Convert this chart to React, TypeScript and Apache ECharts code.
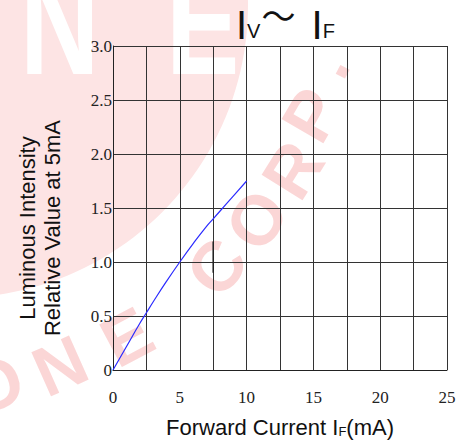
import React, { useEffect, useRef } from 'react';
import * as echarts from 'echarts';

// Forward current (mA) and relative luminous intensity (relative to 5 mA)
const currentMA = [0, 1, 2, 2.5, 3, 4, 5, 6, 7, 7.5, 8, 9, 10];
const relIntensity = [0, 0.215, 0.43, 0.53, 0.63, 0.82, 1.0, 1.17, 1.33, 1.4, 1.47, 1.61, 1.75];
// small stray tick mark present in the source drawing
const strayX = [7.5, 7.5];
const strayY = [0.9, 1.19];

const xMin = 0;
const xMax = 25;
const xStep = 5;
const yMin = 0;
const yMax = 3;
const yStep = 0.5;

const PINK_DISK = '#fde4e4';
const PINK_TEXT = '#fbd6d6';
const SERIF = "'Liberation Serif', 'Times New Roman', serif";
const SANS = "'Liberation Sans', Arial, sans-serif";

function watermark(): any[] {
  const deg = Math.PI / 180;
  const els: any[] = [
    { type: 'circle', z: -10, silent: true, shape: { cx: -45, cy: 5, r: 293 }, style: { fill: PINK_DISK } },
    { type: 'text', z: -9, silent: true, x: 20, y: 97, scaleY: 1.35, style: { text: 'N', fill: '#ffffff', font: 'bold 110px ' + SANS, textAlign: 'left', textVerticalAlign: 'bottom' } },
    { type: 'text', z: -9, silent: true, x: 166, y: 97, scaleY: 1.35, style: { text: 'E', fill: '#ffffff', font: 'bold 110px ' + SANS, textAlign: 'left', textVerticalAlign: 'bottom' } },
  ];
  const letters: [string, number, number, number][] = [
    ['O', -5, 385, 22],
    ['N', 60, 366, 24],
    ['E', 127, 337, 28],
    ['C', 217, 267, 52],
    ['O', 257, 220, 56],
    ['R', 293, 170, 58],
    ['P', 312, 115, 60],
    ['.', 326, 63, 62],
  ];
  letters.forEach(([t, x, y, r]) => {
    els.push({
      type: 'text', z: -9, silent: true, x, y, rotation: r * deg,
      style: { text: t, fill: PINK_TEXT, font: 'bold 70px ' + SANS, textAlign: 'center', textVerticalAlign: 'middle' },
    });
  });
  return els;
}

export default function App() {
  const ref = useRef<HTMLDivElement>(null);
  useEffect(() => {
    if (!ref.current) return;
    const chart = echarts.init(ref.current, null, { renderer: 'svg' });
    const lineData = currentMA.map((x, i) => [x, relIntensity[i]]);
    const strayData = strayX.map((x, i) => [x, strayY[i]]);
    const gridColor = '#333';
    chart.setOption({
      animation: false,
      backgroundColor: '#fff',
      graphic: watermark(),
      title: {
        text: '{a|I}{b|V}{c|〜}{sp| }{a|I}{b|F}',
        left: 231,
        top: 0,
        padding: [1, 5, 5, 5],
        textStyle: {
          fontWeight: 'normal',
          rich: {
            a: { fontSize: 40, fontFamily: SANS, fontWeight: 'normal', color: '#111', lineHeight: 44, verticalAlign: 'bottom' },
            b: { fontSize: 20, fontFamily: SANS, fontWeight: 'normal', color: '#111', lineHeight: 20, verticalAlign: 'bottom', padding: [0, 0, 4, 0] },
            c: { fontSize: 34, fontFamily: "'Noto Sans CJK SC'", fontWeight: 'normal', color: '#111', lineHeight: 30, verticalAlign: 'bottom', padding: [0, 0, 14, 1] },
            sp: { fontSize: 40, fontFamily: SANS, lineHeight: 20, padding: [0, 5, 0, 0] },
          },
        },
      },
      grid: { left: 113, right: 15, top: 46, bottom: 72 },
      xAxis: {
        type: 'value',
        min: xMin,
        max: xMax,
        interval: xStep,
        axisLine: { show: true, lineStyle: { color: '#222', width: 1 } },
        axisTick: { show: false },
        minorTick: { show: false, splitNumber: 2 },
        splitLine: { show: true, lineStyle: { color: gridColor, width: 1 } },
        minorSplitLine: { show: true, lineStyle: { color: gridColor, width: 1 } },
        axisLabel: { fontFamily: SERIF, fontSize: 17, color: '#222', margin: 19 },
        name: 'Forward Current I{s|F}(mA)',
        nameLocation: 'middle',
        nameGap: 46,
        nameTextStyle: {
          fontFamily: SANS,
          fontSize: 22,
          color: '#111',
          rich: { s: { fontFamily: SANS, fontSize: 13, color: '#111', verticalAlign: 'bottom' } },
        },
      },
      yAxis: {
        type: 'value',
        min: yMin,
        max: yMax,
        interval: yStep,
        axisLine: { show: true, lineStyle: { color: '#222', width: 1 } },
        axisTick: { show: false },
        splitLine: { show: true, lineStyle: { color: gridColor, width: 1 } },
        axisLabel: {
          fontFamily: SERIF,
          fontSize: 17,
          color: '#222',
          margin: 1,
          formatter: (v: number) => (v === 0 ? '0' : v.toFixed(1)),
        },
        name: 'Luminous Intensity\nRelative Value at 5mA',
        nameLocation: 'middle',
        nameRotate: 90,
        nameGap: 48,
        nameTextStyle: { fontFamily: SANS, fontSize: 22, lineHeight: 25, color: '#111', padding: [0, 40, 0, 0] },
      },
      series: [
        {
          type: 'line',
          name: 'Iv',
          data: lineData,
          smooth: true,
          showSymbol: false,
          lineStyle: { color: '#2b2bff', width: 1.2 },
          z: 5,
        },
        {
          type: 'line',
          name: 'mark',
          data: strayData,
          showSymbol: false,
          lineStyle: { color: '#222', width: 1.5 },
          z: 4,
        },
      ],
    });
    return () => chart.dispose();
  }, []);
  return <div ref={ref} style={{ width: 462, height: 443, position: 'absolute', left: 0, top: 0 }} />;
}
